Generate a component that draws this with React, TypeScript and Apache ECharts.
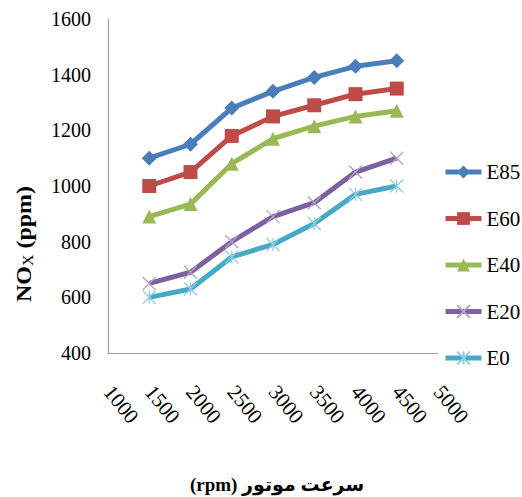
import React, { useEffect, useRef } from "react";
import * as echarts from "echarts";

// Engine speed (rpm) for each measurement
const speeds = [1500, 2000, 2500, 3000, 3500, 4000, 4500];

// NOx emissions (ppm) per fuel blend
const e85 = [1100, 1150, 1280, 1340, 1390, 1430, 1450];
const e60 = [1000, 1050, 1180, 1250, 1290, 1330, 1350];
const e40 = [890, 935, 1080, 1170, 1215, 1250, 1270];
const e20 = [650, 690, 800, 890, 940, 1050, 1100];
const e0 = [600, 630, 745, 790, 865, 970, 1000];

const seriesNames = ["E85", "E60", "E40", "E20", "E0"];

const SERIF = "'Liberation Serif', 'Times New Roman', 'DejaVu Serif', serif";
const AXIS_COLOR = "#a0a0a0";

const crossPath = "path://M0,0L10,10M10,0L0,10";
const starPath = "path://M5,0L5,10M0,0L10,10M10,0L0,10";

function pairs(values: number[]) {
  return speeds.map((s, i) => [s, values[i]]);
}

const plain = (v: number) => String(v);

export default function App() {
  const ref = useRef<HTMLDivElement>(null);

  useEffect(() => {
    if (!ref.current) return;
    const chart = echarts.init(ref.current, null, { renderer: "svg" });

    const lineSeries = (
      name: string,
      values: number[],
      lineColor: string,
      symbol: string,
      symbolSize: number,
      markerColor: string,
      outline: boolean
    ) => ({
      name,
      type: "line",
      data: pairs(values),
      symbol,
      symbolSize,
      symbolKeepAspect: true,
      lineStyle: { color: lineColor, width: 5 },
      itemStyle: outline
        ? { color: markerColor, borderColor: markerColor, borderWidth: 1.3 }
        : { color: markerColor, borderWidth: 0 },
      emphasis: { disabled: true },
      z: 2,
    });

    chart.setOption({
      animation: false,
      backgroundColor: "#ffffff",
      grid: { left: 108, right: 84, top: 19, bottom: 144 },
      xAxis: {
        type: "value",
        min: 1000,
        max: 5000,
        interval: 500,
        axisLine: { show: true, onZero: false, lineStyle: { color: AXIS_COLOR, width: 1.2 } },
        axisTick: { show: false },
        splitLine: { show: false },
        axisLabel: {
          rotate: -51,
          margin: 35,
          fontFamily: SERIF,
          fontSize: 21,
          color: "#000",
          formatter: plain,
          showMinLabel: true,
          showMaxLabel: true,
        },
      },
      yAxis: {
        type: "value",
        min: 400,
        max: 1600,
        interval: 200,
        axisLine: { show: true, lineStyle: { color: AXIS_COLOR, width: 1.2 } },
        axisTick: { show: false },
        splitLine: { show: false },
        axisLabel: {
          margin: 17,
          fontFamily: SERIF,
          fontSize: 20,
          color: "#000",
          formatter: plain,
        },
      },
      legend: {
        orient: "vertical",
        left: 443,
        top: 161,
        padding: 0,
        itemWidth: 36,
        itemHeight: 16,
        itemGap: 24.5,
        data: seriesNames,
        lineStyle: { width: 5 },
        textStyle: {
          fontFamily: SERIF,
          fontSize: 21,
          lineHeight: 22,
          color: "#000",
        },
      },
      graphic: [
        {
          type: "text",
          x: 24,
          y: 244,
          rotation: Math.PI / 2,
          scaleX: 1.14,
          style: {
            text: "{a|NO}{b|X}{a| (ppm)}",
            align: "center",
            verticalAlign: "middle",
            fill: "#000",
            rich: {
              a: { fontFamily: SERIF, fontSize: 21, fontWeight: "bold", fill: "#000" },
              b: {
                fontFamily: SERIF,
                fontSize: 14,
                fill: "#000",
                verticalAlign: "bottom",
                padding: [9, 0, 0, 0],
              },
            },
          },
        },
        {
          type: "text",
          x: 277,
          y: 484,
          style: {
            text: "(rpm) سرعت موتور",
            align: "center",
            verticalAlign: "middle",
            fontFamily: "'Liberation Serif', 'DejaVu Sans', serif",
            fontSize: 19,
            fontWeight: "bold",
            fill: "#000",
          },
        },
      ],
      series: [
        lineSeries("E85", e85, "#4a7ebb", "diamond", 15, "#4a7ebb", false),
        lineSeries("E60", e60, "#be4b48", "rect", 14, "#be4b48", false),
        lineSeries("E40", e40, "#98b954", "triangle", 14, "#98b954", false),
        lineSeries("E20", e20, "#7d60a0", crossPath, 13, "#b3a2c7", true),
        lineSeries("E0", e0, "#46aac5", starPath, 13, "#93cddd", true),
      ],
    });

    return () => chart.dispose();
  }, []);

  return (
    <div
      ref={ref}
      style={{ position: "absolute", left: 0, top: 0, width: 522, height: 497 }}
    />
  );
}
